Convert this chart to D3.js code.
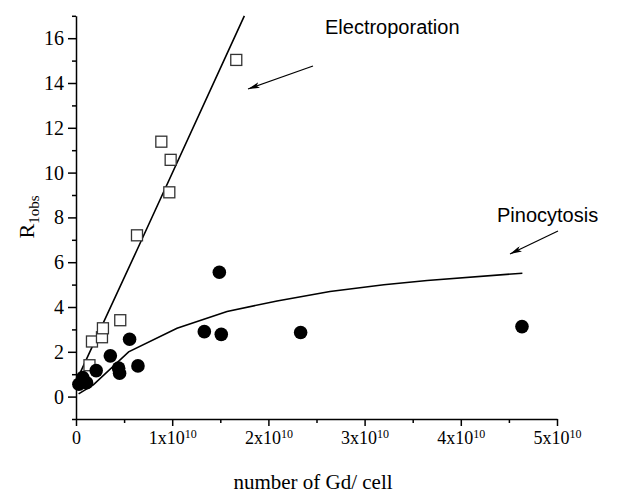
<!DOCTYPE html>
<html>
<head>
<meta charset="utf-8">
<script src="https://cdn.jsdelivr.net/npm/d3@7"></script>
<style>
  body { margin: 0; background: #fff; }
  svg { display: block; }
  .axis path, .axis line { stroke: #000; stroke-width: 1.5; }
  .axis text { font-family: "Liberation Serif", "Times New Roman", serif; font-size: 18px; fill: #000; }
  .yaxis text { font-size: 20px; }
</style>
</head>
<body>
<svg id="chart" width="636" height="495"></svg>
<script>
// x values are in units of 1e10 Gd per cell
var pinoX = [0.03, 0.07, 0.11, 0.21, 0.357, 0.443, 0.453, 0.557, 0.644, 1.334, 1.49, 1.51, 2.335, 4.636];
var pinoY = [0.55, 0.85, 0.62, 1.16, 1.82, 1.27, 1.04, 2.56, 1.37, 2.9, 5.55, 2.78, 2.86, 3.125];

var electroX = [0.14, 0.166, 0.27, 0.28, 0.46, 0.634, 0.887, 0.97, 0.984, 1.666];
var electroY = [1.40, 2.46, 2.65, 3.05, 3.41, 7.2, 11.38, 9.12, 10.57, 15.03];

var electroFitX = [0.02, 0.64, 1.75];
var electroFitY = [0.85, 6.6, 17.0];

var pinoFitX = [0.027, 0.18, 0.547, 1.05, 1.57, 2.09, 2.64, 3.2, 3.65, 4.64];
var pinoFitY = [0.12, 0.52, 2.0, 3.05, 3.8, 4.27, 4.69, 4.99, 5.18, 5.51];

var xTicks = [0, 1, 2, 3, 4, 5];
var yTicks = [0, 2, 4, 6, 8, 10, 12, 14, 16];

var svg = d3.select("#chart");

var x = d3.scaleLinear().domain([0, 5]).range([76, 557]);
var y = d3.scaleLinear().domain([-1, 17]).range([419, 15.8]);

// minor ticks
svg.append("g")
  .attr("class", "axis")
  .attr("transform", "translate(0,419)")
  .call(d3.axisBottom(x).tickValues(d3.range(0.5, 5, 1)).tickSize(4).tickFormat(""))
  .select(".domain").remove();

svg.append("g")
  .attr("class", "axis")
  .attr("transform", "translate(76,0)")
  .call(d3.axisLeft(y).tickValues(d3.range(-1, 18, 2)).tickSize(4).tickFormat(""))
  .select(".domain").remove();

// major ticks
var gx = svg.append("g")
  .attr("class", "axis")
  .attr("transform", "translate(0,419)")
  .call(d3.axisBottom(x).tickValues(xTicks).tickSize(7).tickSizeOuter(0).tickPadding(5));

gx.selectAll(".tick text").each(function(d) {
  var t = d3.select(this).text("");
  if (d === 0) { t.text("0"); return; }
  t.append("tspan").text(d + "x10");
  t.append("tspan").attr("dy", "-0.45em").style("font-size", "12px").text("10");
});

svg.append("g")
  .attr("class", "axis yaxis")
  .attr("transform", "translate(76,0)")
  .call(d3.axisLeft(y).tickValues(yTicks).tickSize(8).tickSizeOuter(0).tickPadding(4));

// fitted curves
var line = d3.line().x(function(d) { return x(d[0]); }).y(function(d) { return y(d[1]); });

svg.append("path")
  .datum(d3.zip(electroFitX, electroFitY))
  .attr("fill", "none").attr("stroke", "#000").attr("stroke-width", 1.6)
  .attr("d", line);

svg.append("path")
  .datum(d3.zip(pinoFitX, pinoFitY))
  .attr("fill", "none").attr("stroke", "#000").attr("stroke-width", 1.6)
  .attr("d", line);

// data points
svg.selectAll(".sq")
  .data(d3.zip(electroX, electroY))
  .enter().append("rect")
  .attr("class", "sq")
  .attr("x", function(d) { return x(d[0]) - 5.5; })
  .attr("y", function(d) { return y(d[1]) - 5.5; })
  .attr("width", 11).attr("height", 11)
  .attr("fill", "#fff").attr("stroke", "#333").attr("stroke-width", 1.3);

svg.selectAll(".dot")
  .data(d3.zip(pinoX, pinoY))
  .enter().append("circle")
  .attr("class", "dot")
  .attr("cx", function(d) { return x(d[0]); })
  .attr("cy", function(d) { return y(d[1]); })
  .attr("r", 6.8)
  .attr("fill", "#000");

// arrows + annotations
svg.append("defs").append("marker")
  .attr("id", "head")
  .attr("viewBox", "0 0 12 6")
  .attr("refX", 12).attr("refY", 3)
  .attr("markerWidth", 12).attr("markerHeight", 6)
  .attr("markerUnits", "userSpaceOnUse")
  .attr("orient", "auto")
  .append("path").attr("d", "M0,0 L12,3 L0,6 L3,3 Z").attr("fill", "#000");

svg.append("line")
  .attr("x1", 313).attr("y1", 66).attr("x2", 248).attr("y2", 89)
  .attr("stroke", "#000").attr("stroke-width", 1.2).attr("marker-end", "url(#head)");

svg.append("line")
  .attr("x1", 558).attr("y1", 231).attr("x2", 510).attr("y2", 254)
  .attr("stroke", "#000").attr("stroke-width", 1.2).attr("marker-end", "url(#head)");

svg.append("text")
  .attr("x", 325).attr("y", 34)
  .style("font-family", "Liberation Sans, Arial, sans-serif").style("font-size", "20px")
  .text("Electroporation");

svg.append("text")
  .attr("x", 497).attr("y", 222)
  .style("font-family", "Liberation Sans, Arial, sans-serif").style("font-size", "20px")
  .text("Pinocytosis");

// axis titles
svg.append("text")
  .attr("x", 313).attr("y", 489)
  .attr("text-anchor", "middle")
  .style("font-family", "Liberation Serif, Times New Roman, serif").style("font-size", "21px")
  .text("number of Gd/ cell");

var yt = svg.append("text")
  .attr("transform", "translate(34,217) rotate(-90)")
  .attr("text-anchor", "middle")
  .style("font-family", "Liberation Serif, Times New Roman, serif").style("font-size", "22px");
yt.append("tspan").text("R");
yt.append("tspan").attr("dy", "0.3em").style("font-size", "15px").text("1obs");
</script>
</body>
</html>
